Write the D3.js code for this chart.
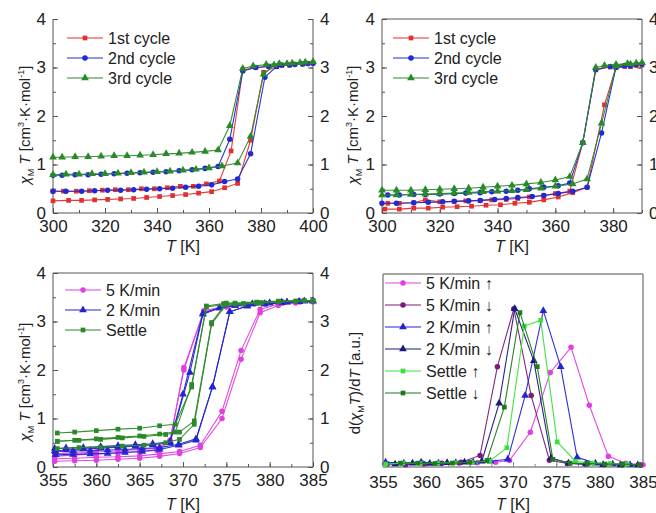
<!DOCTYPE html>
<html><head><meta charset="utf-8">
<script src="https://cdn.jsdelivr.net/npm/d3@7"></script>
<style>body{margin:0;background:#fff} text{font-family:"Liberation Sans",Arial,sans-serif;fill:#222}</style>
</head><body><svg id="c" width="656" height="513"></svg>
<script>
// ---------- Panel A (top-left) ----------
const aXTicks = [300,320,340,360,380,400];
const yTicks = [0,1,2,3,4];
const aLegend = ["1st cycle","2nd cycle","3rd cycle"];
const a1T = [300,306,311,316,321,326,331,336,341,346,351,356,361,366,371,376,381,386,391,396,400, 398,393,388,383,378,373,368.5,364,359,354,349,344,339,334,329,324,319,314,309,304,300];
const a1V = [0.25,0.26,0.26,0.27,0.28,0.29,0.30,0.32,0.34,0.36,0.38,0.41,0.44,0.52,0.61,1.50,2.90,3.02,3.05,3.07,3.09, 3.08,3.07,3.04,3.02,3.00,2.95,1.28,0.66,0.60,0.55,0.55,0.52,0.50,0.50,0.48,0.48,0.47,0.46,0.45,0.45,0.45];
const a2T = [300,305,311,316,321,326,331,336,341,346,351,356,361,366,371,376,381.5,386,391,396,400, 398,393,388,383,378,373,368,363.5,358.5,353.5,348.5,343.5,338.5,333.5,328.5,323.5,318.5,313.5,308.5,303.5,300];
const a2V = [0.45,0.45,0.45,0.46,0.47,0.47,0.48,0.49,0.50,0.51,0.53,0.55,0.58,0.65,0.70,1.22,2.80,3.02,3.05,3.07,3.09, 3.08,3.06,3.05,3.02,3.00,2.93,1.52,0.96,0.92,0.89,0.87,0.85,0.84,0.83,0.82,0.81,0.80,0.79,0.79,0.78,0.78];
const a3T = [300,305,310,315,320,325,330,335,340,345,350,355,360,365,371,376,381,385,390,395,400, 397,392,387,382,377,373,368,363.5,358.5,353.5,348.5,343.5,338.5,333.5,328.5,323.5,318.5,313.5,308.5,303.5,300];
const a3V = [0.79,0.80,0.80,0.81,0.81,0.82,0.83,0.84,0.85,0.86,0.88,0.90,0.93,0.97,1.03,1.58,2.86,3.05,3.08,3.10,3.12, 3.11,3.09,3.08,3.06,3.03,2.98,1.80,1.30,1.27,1.25,1.23,1.22,1.20,1.19,1.18,1.18,1.17,1.16,1.16,1.15,1.15];

// ---------- Panel B (top-right) ----------
const bXTicks = [300,320,340,360,380];
const b1T = [301,306,311,316,321,326,331,336,341,346,351,356,361,366,371,377,381,386,390, 388,384,379,374,369.5,365,360,356,351,347,343,338,334,329,325,320,315,311,306,302];
const b1V = [0.08,0.08,0.10,0.10,0.12,0.13,0.14,0.16,0.17,0.20,0.22,0.27,0.33,0.42,0.53,2.23,3.00,3.02,3.05, 3.04,3.02,3.01,2.95,1.45,0.45,0.40,0.36,0.33,0.30,0.28,0.27,0.26,0.25,0.24,0.23,0.27,0.21,0.20,0.20];
const b2T = [300,305,311,316,321,325,330,334,339,343,347,352,356,361,366,371,376,381,386,390, 388,384,379,374,369.5,365,361,356,351,347,343,338,334,329,325,320,315,311,306,302];
const b2V = [0.20,0.20,0.21,0.22,0.23,0.24,0.25,0.26,0.28,0.30,0.32,0.34,0.36,0.40,0.45,0.53,1.65,3.00,3.03,3.07, 3.06,3.04,3.02,2.96,1.45,0.62,0.56,0.53,0.50,0.47,0.45,0.44,0.42,0.41,0.40,0.39,0.38,0.38,0.37,0.37];
const b3T = [300,305,310,315,320,325,330,335,340,345,350,355,360,366,371,376,381,386,390, 388,385,381,377,374,369.5,365,360,355,350,345,340,335,330,325,320,315,310,305,300];
const b3V = [0.37,0.37,0.38,0.39,0.40,0.41,0.42,0.44,0.45,0.46,0.48,0.51,0.55,0.60,0.70,1.85,3.03,3.07,3.10, 3.09,3.08,3.06,3.04,3.00,1.45,0.75,0.68,0.63,0.60,0.57,0.55,0.53,0.51,0.50,0.49,0.48,0.47,0.47,0.47];

// ---------- Panel C (bottom-left) ----------
const cXTicks = [355,360,365,370,375,380,385];
const cLegend = ["5 K/min","2 K/min","Settle"];
const cMagHeatT = [355.2,357.5,360,362.5,365,367.3,369.6,372,374.5,376.7,378.9,381,383,385];
const cMagCoolT = [383.5,381.5,379.5,377.5,375,372.4,370.1,368.5,367,365,362.5,360,357.5,355.2];
const cMagH1 = [0.12,0.13,0.14,0.16,0.18,0.22,0.28,0.40,1.00,2.22,3.18,3.33,3.38,3.40];
const cMagC1 = [3.40,3.38,3.36,3.33,3.30,3.20,2.05,0.52,0.34,0.32,0.29,0.27,0.25,0.22];
const cMagH2 = [0.17,0.18,0.20,0.21,0.23,0.27,0.32,0.45,1.15,2.40,3.25,3.36,3.40,3.42];
const cMagC2 = [3.42,3.40,3.38,3.35,3.32,3.22,2.00,0.55,0.38,0.36,0.33,0.31,0.29,0.27];
const cBluHeatT = [355.3,357.3,359.3,361.3,363.3,365.3,367.3,369.5,371.5,373.4,375.4,377.4,379.4,381.4,383.4,385];
const cBluCoolT = [384,382,380,378,376,374.2,372.3,370.8,368.5,366.5,364.5,362.5,360.5,358.5,356.5,355.2];
const cBluH1 = [0.25,0.26,0.27,0.28,0.30,0.32,0.36,0.45,0.55,1.65,3.20,3.32,3.36,3.39,3.41,3.42];
const cBluC1 = [3.42,3.40,3.38,3.36,3.33,3.28,3.15,1.95,0.50,0.46,0.43,0.41,0.39,0.37,0.35,0.33];
const cBluH2 = [0.32,0.33,0.34,0.35,0.36,0.38,0.40,0.47,0.58,1.65,3.20,3.32,3.36,3.39,3.41,3.42];
const cBluCool2T = [384,382,380,378,376,374.2,372.3,370,368.5,366.5,364.5,362.5,360.5,358.5,356.5,355.2];
const cBluC2 = [3.42,3.40,3.38,3.36,3.33,3.28,3.17,1.50,0.52,0.48,0.46,0.44,0.42,0.40,0.39,0.38];
const cGrnHeatT = [355.5,358,360.5,363,365.5,368,369.6,371.3,373.3,375,377,379,381,383,385];
const cGrnCoolT = [384,381,378.5,376,374.7,372.7,371,369.1,367.3,365,362.5,360,357.5,355.5];
const cGrnH1 = [0.38,0.40,0.41,0.43,0.45,0.50,0.57,0.88,2.95,3.35,3.36,3.38,3.40,3.42,3.43];
const cGrnC1 = [3.43,3.41,3.38,3.36,3.35,3.30,1.70,0.72,0.68,0.64,0.61,0.58,0.55,0.53];
const cGrnH2 = [0.53,0.55,0.57,0.60,0.63,0.67,0.72,0.95,2.98,3.38,3.37,3.39,3.41,3.42,3.43];
const cGrnC2 = [3.43,3.42,3.40,3.38,3.37,3.32,1.65,0.88,0.85,0.80,0.78,0.75,0.72,0.70];

// ---------- Panel D (bottom-right) ----------
const dLegend = ["5 K/min \u2191","5 K/min \u2193","2 K/min \u2191","2 K/min \u2193","Settle \u2191","Settle \u2193"];
const d1T = [355.3,357.5,359.6,361.7,363.8,365.9,368,369.6,372,374.3,376.7,378.8,381,383,385];
const d1V = [0.02,0.015,0.02,0.018,0.02,0.022,0.025,0.034,0.18,0.49,0.62,0.32,0.055,0.02,0.012];
const d2T = [355.5,357.6,359.7,361.8,364,366.2,368.2,370.1,372.1,374.2,376.3,378.4,380.5,382.6,384.7];
const d2V = [0.015,0.012,0.015,0.02,0.025,0.06,0.52,0.82,0.37,0.035,0.018,0.015,0.012,0.012,0.01];
const d3T = [355.3,357.4,359.4,361.4,363.4,365.4,367.4,369.4,371.4,373.5,375.5,377.4,379.5,381.5,383.5];
const d3V = [0.025,0.02,0.025,0.02,0.022,0.025,0.03,0.04,0.37,0.81,0.52,0.05,0.02,0.015,0.012];
const d4T = [356.4,358.4,360.4,362.4,364.4,366.4,368.4,370.2,372.4,374.4,376.4,378.4,380.4,382.4,384.4];
const d4V = [0.015,0.02,0.018,0.022,0.025,0.03,0.33,0.82,0.55,0.047,0.02,0.015,0.012,0.01,0.01];
const d5T = [355.3,357.3,359.3,361.3,363.3,365.3,367.3,369.3,371.3,373.2,375.1,377.2,379.2,381.2,383.2];
const d5V = [0.015,0.02,0.018,0.02,0.022,0.025,0.03,0.10,0.73,0.76,0.13,0.03,0.02,0.018,0.015];
const d6T = [357,359,361,363,365,367,369,370.8,372.8,374.6,376.6,378.6,380.6,382.6,384.6];
const d6V = [0.02,0.02,0.018,0.02,0.025,0.034,0.31,0.80,0.52,0.04,0.02,0.018,0.015,0.015,0.012];

// ---------- colours ----------
const RED="#e03030", BLUE="#1f2ad0", GREEN="#2a8a2a";
const MAG="#e040e0", PURP="#7a1a7a", NAVY="#1a1a80", LGRN="#3be03b", DGRN="#1e7a1e", BLU2="#2525d0";

const svg = d3.select("#c");
const zip = (T,V) => T.map((t,i)=>[t,V[i]]);
const symType = {sq:d3.symbolSquare, ci:d3.symbolCircle, tr:d3.symbolTriangle};
const symSize = {sq:22, ci:24, tr:26};

function drawMarker(g, m, cx, cy, color){
  g.append("path").attr("d", d3.symbol().type(symType[m]).size(symSize[m])())
    .attr("transform",`translate(${cx},${cy})`).attr("fill",color).attr("stroke","none");
}

function panel(o){
  const x = d3.scaleLinear().domain(o.xd).range([o.l,o.r]);
  const y = d3.scaleLinear().domain(o.yd).range([o.b,o.t]);
  const g = svg.append("g");
  const axc = o.axColor;
  // minor ticks + major ticks (inward)
  const xMinor = d3.range(o.xd[0], o.xd[1]+1e-9, o.xMinorStep);
  const bx = g.append("g").attr("transform",`translate(0,${o.b})`)
    .call(d3.axisBottom(x).tickValues(xMinor).tickSize(-3).tickFormat(""));
  bx.select(".domain").remove(); bx.selectAll("line").attr("stroke",axc);
  const bx2 = g.append("g").attr("transform",`translate(0,${o.b})`)
    .call(d3.axisBottom(x).tickValues(o.xTicks).tickSize(-5).tickPadding(o.xPad).tickFormat(d3.format("d")));
  bx2.select(".domain").remove(); bx2.selectAll("line").attr("stroke",axc);
  bx2.selectAll("text").attr("font-size",17).attr("fill","#222").attr("font-family","Liberation Sans, Arial, sans-serif");
  if(o.yTicks){
    const yMinor = d3.range(o.yd[0], o.yd[1]+1e-9, 0.5);
    [["L",d3.axisLeft,o.l],["R",d3.axisRight,o.r]].forEach(([s,fn,pos])=>{
      const a1 = g.append("g").attr("transform",`translate(${pos},0)`)
        .call(fn(y).tickValues(yMinor).tickSize(-3).tickFormat(""));
      a1.select(".domain").remove(); a1.selectAll("line").attr("stroke",axc);
      const a2 = g.append("g").attr("transform",`translate(${pos},0)`)
        .call(fn(y).tickValues(o.yTicks).tickSize(-5).tickPadding(s==="L"?7:7).tickFormat(d3.format("d")));
      a2.select(".domain").remove(); a2.selectAll("line").attr("stroke",axc);
      a2.selectAll("text").attr("font-size",17).attr("fill","#222").attr("font-family","Liberation Sans, Arial, sans-serif");
    });
  }
  // frame
  const fr = g.append("g").attr("stroke",axc).attr("stroke-width",o.frameW).attr("fill","none");
  fr.append("line").attr("x1",o.l).attr("x2",o.l).attr("y1",o.t).attr("y2",o.b);
  fr.append("line").attr("x1",o.r).attr("x2",o.r).attr("y1",o.t).attr("y2",o.b);
  fr.append("line").attr("x1",o.l).attr("x2",o.r).attr("y1",o.b).attr("y2",o.b);
  if(o.top) fr.append("line").attr("x1",o.l).attr("x2",o.r).attr("y1",o.t).attr("y2",o.t);
  // series
  const line = d3.line().x(d=>x(d[0])).y(d=>y(d[1]));
  o.series.forEach(s=>{
    const pts = zip(s.T,s.V);
    g.append("path").attr("d",line(pts)).attr("fill","none").attr("stroke",s.c).attr("stroke-width",1.1).attr("opacity",0.95);
    pts.forEach(p=>drawMarker(g,s.m,x(p[0]),y(p[1]),s.c));
  });
  // legend
  o.legend.forEach((L,i)=>{
    const yy = o.legY + i*o.legDy;
    g.append("line").attr("x1",o.legX).attr("x2",o.legX+36).attr("y1",yy).attr("y2",yy).attr("stroke",L.c).attr("stroke-width",1.1);
    drawMarker(g,L.m,o.legX+18,yy,L.c);
    g.append("text").attr("x",o.legX+41).attr("y",yy+6).attr("font-size",16).text(L.t);
  });
  // x label
  const xl = g.append("text").attr("x",(o.l+o.r)/2).attr("y",o.xlabY).attr("text-anchor","middle").attr("font-size",16);
  xl.append("tspan").attr("font-style","italic").text("T");
  xl.append("tspan").text(" [K]");
  return {x,y,g};
}

function yLabelChi(x0,y0){
  const t = svg.append("text").attr("transform",`translate(${x0},${y0}) rotate(-90)`).attr("text-anchor","middle").attr("font-size",15);
  t.append("tspan").attr("font-style","italic").text("\u03c7");
  t.append("tspan").attr("font-size",9).attr("dy",4).text("M");
  t.append("tspan").attr("dy",-4).text(" ");
  t.append("tspan").attr("font-style","italic").text("T");
  t.append("tspan").text(" [cm");
  t.append("tspan").attr("font-size",9).attr("dy",-6).text("3");
  t.append("tspan").attr("dy",6).text("\u00b7K\u00b7mol");
  t.append("tspan").attr("font-size",9).attr("dy",-6).text("-1");
  t.append("tspan").attr("dy",6).text("]");
}

// Panel A
panel({l:53,r:313,t:19,b:213,xd:[300,400],xTicks:aXTicks,xMinorStep:10,xPad:7,yd:[0,4],yTicks:yTicks,
  axColor:"#555",frameW:1,top:false,xlabY:252,
  series:[{T:a1T,V:a1V,c:RED,m:"sq"},{T:a2T,V:a2V,c:BLUE,m:"ci"},{T:a3T,V:a3V,c:GREEN,m:"tr"}],
  legend:[{t:aLegend[0],c:RED,m:"sq"},{t:aLegend[1],c:BLUE,m:"ci"},{t:aLegend[2],c:GREEN,m:"tr"}],
  legX:67,legY:38,legDy:20});
yLabelChi(30,125);

// Panel B
panel({l:382,r:642,t:19,b:213,xd:[300,390],xTicks:bXTicks,xMinorStep:10,xPad:7,yd:[0,4],yTicks:yTicks,
  axColor:"#555",frameW:1,top:true,xlabY:252,
  series:[{T:b1T,V:b1V,c:RED,m:"sq"},{T:b2T,V:b2V,c:BLUE,m:"ci"},{T:b3T,V:b3V,c:GREEN,m:"tr"}],
  legend:[{t:aLegend[0],c:RED,m:"sq"},{t:aLegend[1],c:BLUE,m:"ci"},{t:aLegend[2],c:GREEN,m:"tr"}],
  legX:393,legY:38,legDy:20});
yLabelChi(358,125);

// Panel C
panel({l:53,r:313,t:273,b:467,xd:[355,385],xTicks:cXTicks,xMinorStep:2.5,xPad:7,yd:[0,4],yTicks:yTicks,
  axColor:"#555",frameW:1,top:true,xlabY:510,
  series:[
    {T:cMagHeatT,V:cMagH1,c:MAG,m:"ci"},{T:cMagCoolT,V:cMagC1,c:MAG,m:"ci"},
    {T:cMagHeatT,V:cMagH2,c:MAG,m:"ci"},{T:cMagCoolT,V:cMagC2,c:MAG,m:"ci"},
    {T:cBluHeatT,V:cBluH1,c:BLU2,m:"tr"},{T:cBluCoolT,V:cBluC1,c:BLU2,m:"tr"},
    {T:cBluHeatT,V:cBluH2,c:BLU2,m:"tr"},{T:cBluCool2T,V:cBluC2,c:BLU2,m:"tr"},
    {T:cGrnHeatT,V:cGrnH1,c:GREEN,m:"sq"},{T:cGrnCoolT,V:cGrnC1,c:GREEN,m:"sq"},
    {T:cGrnHeatT,V:cGrnH2,c:GREEN,m:"sq"},{T:cGrnCoolT,V:cGrnC2,c:GREEN,m:"sq"}],
  legend:[{t:cLegend[0],c:MAG,m:"ci"},{t:cLegend[1],c:BLU2,m:"tr"},{t:cLegend[2],c:GREEN,m:"sq"}],
  legX:65,legY:290,legDy:20});
yLabelChi(30,382);

// Panel D
panel({l:383,r:643,t:274,b:467,xd:[355,385],xTicks:cXTicks,xMinorStep:2.5,xPad:9,yd:[0,1],yTicks:null,
  axColor:"#8a8a8a",frameW:1.5,top:true,xlabY:510,
  series:[{T:d1T,V:d1V,c:MAG,m:"ci"},{T:d2T,V:d2V,c:PURP,m:"ci"},{T:d3T,V:d3V,c:BLU2,m:"tr"},
          {T:d4T,V:d4V,c:NAVY,m:"tr"},{T:d5T,V:d5V,c:LGRN,m:"sq"},{T:d6T,V:d6V,c:DGRN,m:"sq"}],
  legend:[{t:dLegend[0],c:MAG,m:"ci"},{t:dLegend[1],c:PURP,m:"ci"},{t:dLegend[2],c:BLU2,m:"tr"},
          {t:dLegend[3],c:NAVY,m:"tr"},{t:dLegend[4],c:LGRN,m:"sq"},{t:dLegend[5],c:DGRN,m:"sq"}],
  legX:385,legY:283,legDy:22});
{
  const t = svg.append("text").attr("transform","translate(360,383) rotate(-90)").attr("text-anchor","middle").attr("font-size",15);
  t.append("tspan").text("d(");
  t.append("tspan").attr("font-style","italic").text("\u03c7");
  t.append("tspan").attr("font-size",9).attr("dy",4).text("M");
  t.append("tspan").attr("dy",-4).attr("font-style","italic").text("T");
  t.append("tspan").text(")/d");
  t.append("tspan").attr("font-style","italic").text("T");
  t.append("tspan").text(" [a.u.]");
}
</script></body></html>
